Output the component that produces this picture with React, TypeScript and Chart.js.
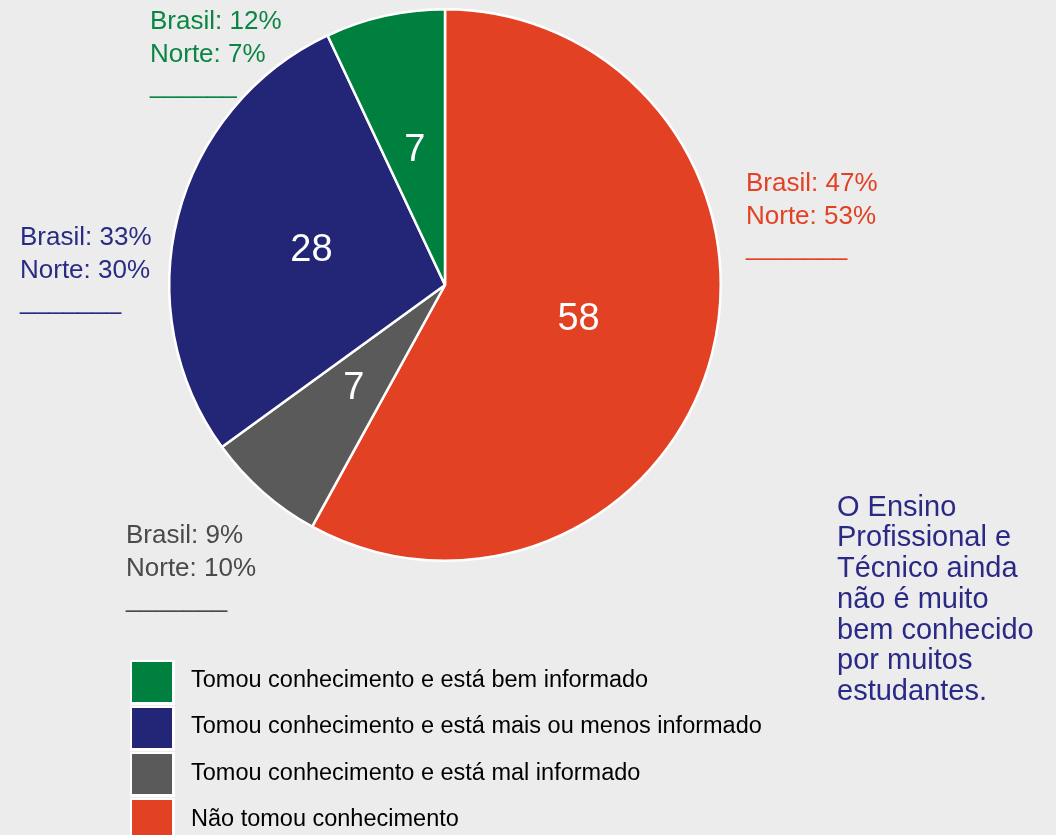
import React, { useEffect, useRef } from "react";
import { Chart, registerables } from "chart.js";

Chart.register(...registerables);

// Slices in clockwise drawing order (starting at 12 o'clock)
const categories = [
  "Não tomou conhecimento",
  "Tomou conhecimento e está mal informado",
  "Tomou conhecimento e está mais ou menos informado",
  "Tomou conhecimento e está bem informado",
];
const values = [58, 7, 28, 7];
const sliceColors = ["#e34124", "#5a5a5a", "#232576", "#00803e"];
const noteColors = ["#e34124", "#4a4a4a", "#2a2c84", "#0a8643"];
const brasilPct = [47, 9, 33, 12];
const nortePct = [53, 10, 30, 7];
const noteTops = [165.5, 517.5, 219.5, 3.5];
const noteLefts = [746, 126, 20, 150];
const underscores = ["_______", "_______", "_______", "______"];

const sideText = [
  "O Ensino",
  "Profissional e",
  "Técnico ainda",
  "não é muito",
  "bem conhecido",
  "por muitos",
  "estudantes.",
];

const FONT = "'Liberation Sans', Arial, Helvetica, sans-serif";

const sliceLabelPlugin = {
  id: "sliceLabels",
  afterDatasetsDraw(chart: any) {
    const ctx = chart.ctx;
    const meta = chart.getDatasetMeta(0);
    ctx.save();
    ctx.fillStyle = "#ffffff";
    ctx.font = `38px ${FONT}`;
    ctx.textAlign = "center";
    ctx.textBaseline = "middle";
    meta.data.forEach((arc: any, i: number) => {
      const p = arc.getCenterPoint();
      ctx.fillText(String(chart.data.datasets[0].data[i]), p.x, p.y);
    });
    ctx.restore();
  },
};

export default function App() {
  const canvasRef = useRef<HTMLCanvasElement | null>(null);

  useEffect(() => {
    if (!canvasRef.current) return;
    const chart = new Chart(canvasRef.current, {
      type: "pie",
      data: {
        labels: categories,
        datasets: [
          {
            data: values,
            backgroundColor: sliceColors,
            borderColor: "#ffffff",
            borderWidth: 2.5,
          },
        ],
      },
      options: {
        responsive: false,
        animation: false,
        layout: { padding: { left: 168, right: 334, top: 8, bottom: 273 } },
        plugins: {
          legend: { display: false },
          tooltip: { enabled: false },
        },
      },
      plugins: [sliceLabelPlugin],
    });
    return () => chart.destroy();
  }, []);

  const legendOrder = [3, 2, 1, 0];

  return (
    <div
      style={{
        position: "fixed",
        left: 0,
        top: 0,
        width: 1056,
        height: 835,
        background: "#ececec",
        overflow: "hidden",
        fontFamily: FONT,
      }}
    >
      <canvas
        ref={canvasRef}
        width={1056}
        height={835}
        style={{ position: "absolute", left: 0, top: 0, width: 1056, height: 835 }}
      />
      {categories.map((c, i) => (
        <div
          key={"note" + i}
          style={{
            position: "absolute",
            left: noteLefts[i],
            top: noteTops[i],
            fontSize: 26,
            lineHeight: "33px",
            color: noteColors[i],
            whiteSpace: "pre",
          }}
        >
          <div>{`Brasil: ${brasilPct[i]}%`}</div>
          <div>{`Norte: ${nortePct[i]}%`}</div>
          <div style={{ marginTop: -2 }}>{underscores[i]}</div>
        </div>
      ))}
      {legendOrder.map((idx, row) => (
        <React.Fragment key={"leg" + idx}>
          <div
            style={{
              position: "absolute",
              left: 129.5,
              top: 659.5 + 46 * row,
              width: 45,
              height: 45,
              background: "#ffffff",
            }}
          />
          <div
            style={{
              position: "absolute",
              left: 132,
              top: 662 + 46 * row,
              width: 40,
              height: 40,
              background: sliceColors[idx],
            }}
          />
          <div
            style={{
              position: "absolute",
              left: 191,
              top: 656 + 46.3 * row,
              fontSize: 23.5,
              lineHeight: "46.3px",
              color: "#000000",
              whiteSpace: "pre",
            }}
          >
            {categories[idx]}
          </div>
        </React.Fragment>
      ))}
      <div
        style={{
          position: "absolute",
          left: 837,
          top: 490.5,
          fontSize: 29,
          lineHeight: "30.8px",
          color: "#2a2a86",
          whiteSpace: "pre",
        }}
      >
        {sideText.map((t, i) => (
          <div key={"s" + i}>{t}</div>
        ))}
      </div>
    </div>
  );
}
